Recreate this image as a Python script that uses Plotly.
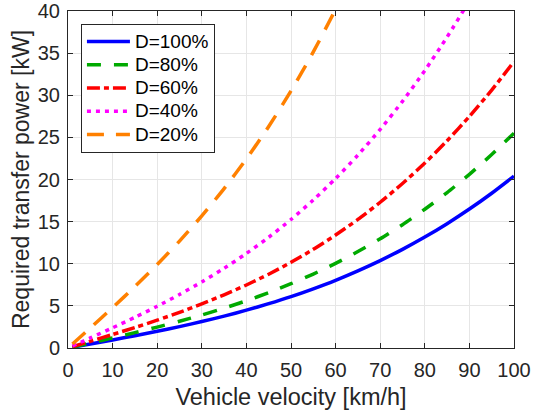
import plotly.graph_objects as go

velocity = [1, 5, 10, 15, 20, 25, 30, 35, 40, 45, 50, 55, 60, 65, 70, 75, 80, 85, 90, 95, 100]
p_d100 = [0.10, 0.48, 0.96, 1.46, 1.98, 2.54, 3.14, 3.78, 4.49, 5.26, 6.10, 7.03, 8.04, 9.16, 10.38, 11.71, 13.17, 14.76, 16.49, 18.37, 20.40]
p_d80 = [0.12, 0.59, 1.20, 1.82, 2.48, 3.17, 3.92, 4.73, 5.61, 6.57, 7.63, 8.78, 10.05, 11.45, 12.97, 14.64, 16.47, 18.45, 20.61, 22.96, 25.50]
p_d60 = [0.16, 0.79, 1.60, 2.43, 3.30, 4.23, 5.23, 6.31, 7.48, 8.76, 10.17, 11.71, 13.41, 15.26, 17.30, 19.52, 21.95, 24.60, 27.49, 30.61, 34.00]
p_d40 = [0.24, 1.19, 2.40, 3.64, 4.95, 6.35, 7.84, 9.46, 11.22, 13.14, 15.25, 17.57, 20.11, 22.89, 25.95, 29.28, 32.93, 36.91, 41.23, 45.92, 51.00]
p_d20 = [0.48, 2.38, 4.79, 7.29, 9.91, 12.69, 15.68, 18.92, 22.44, 26.29, 30.51, 35.14, 40.22, 45.79, 51.89, 58.57, 65.86, 73.81, 82.46, 91.84, 102.0]
labels = ["D=100%", "D=80%", "D=60%", "D=40%", "D=20%"]
x_ticks = [0, 10, 20, 30, 40, 50, 60, 70, 80, 90, 100]
y_ticks = [0, 5, 10, 15, 20, 25, 30, 35, 40]

series = [p_d100, p_d80, p_d60, p_d40, p_d20]
colors = ["#0000FF", "#00AA00", "#FF0000", "#FF00FF", "#FF8000"]
dashes = ["solid", "14px,13px", "13px,4px,5px,4px", "4px,5px", "17px,12px"]

FONT = "Liberation Sans, Arial, Helvetica"

fig = go.Figure()
for lab, ys, c, d in zip(labels, series, colors, dashes):
    fig.add_trace(go.Scatter(x=velocity, y=ys, mode="lines",
                             name='<span style="font-size:19px">' + lab + '</span>',
                             line=dict(color=c, width=3.5, dash=d, shape="spline", smoothing=0.6)))

axis_common = dict(showline=True, linecolor="#262626", linewidth=1, mirror="allticks",
                   ticks="inside", ticklen=5, tickcolor="#262626", automargin=False,
                   ticklabeloverflow="allow",
                   showgrid=True, gridcolor="#E6E6E6", gridwidth=1, zeroline=False,
                   tickfont=dict(family=FONT, size=20, color="#262626"))

fig.update_xaxes(range=[0, 100], tickvals=x_ticks, ticklabelstandoff=4, **axis_common,
                 title=dict(text="Vehicle velocity [km/h]", standoff=8,
                            font=dict(family=FONT, size=23.5, color="#262626")))
fig.update_yaxes(range=[0, 40], tickvals=y_ticks, ticklabelstandoff=3, **axis_common,
                 title=dict(text="Required transfer power [kW]", standoff=1,
                            font=dict(family=FONT, size=23, color="#262626")))

fig.update_layout(width=533, height=417, margin=dict(l=68, r=19, t=11, b=69),
                  plot_bgcolor="white", paper_bgcolor="white",
                  legend=dict(x=0.029, y=0.962, xanchor="left", yanchor="top",
                              bgcolor="white", bordercolor="#262626", borderwidth=1,
                              font=dict(family=FONT, size=15.6, color="#000000"),
                              tracegroupgap=0, itemwidth=43))

fig.write_html("out.html", config={"displayModeBar": False},
               post_script="document.body.style.margin='0';")
